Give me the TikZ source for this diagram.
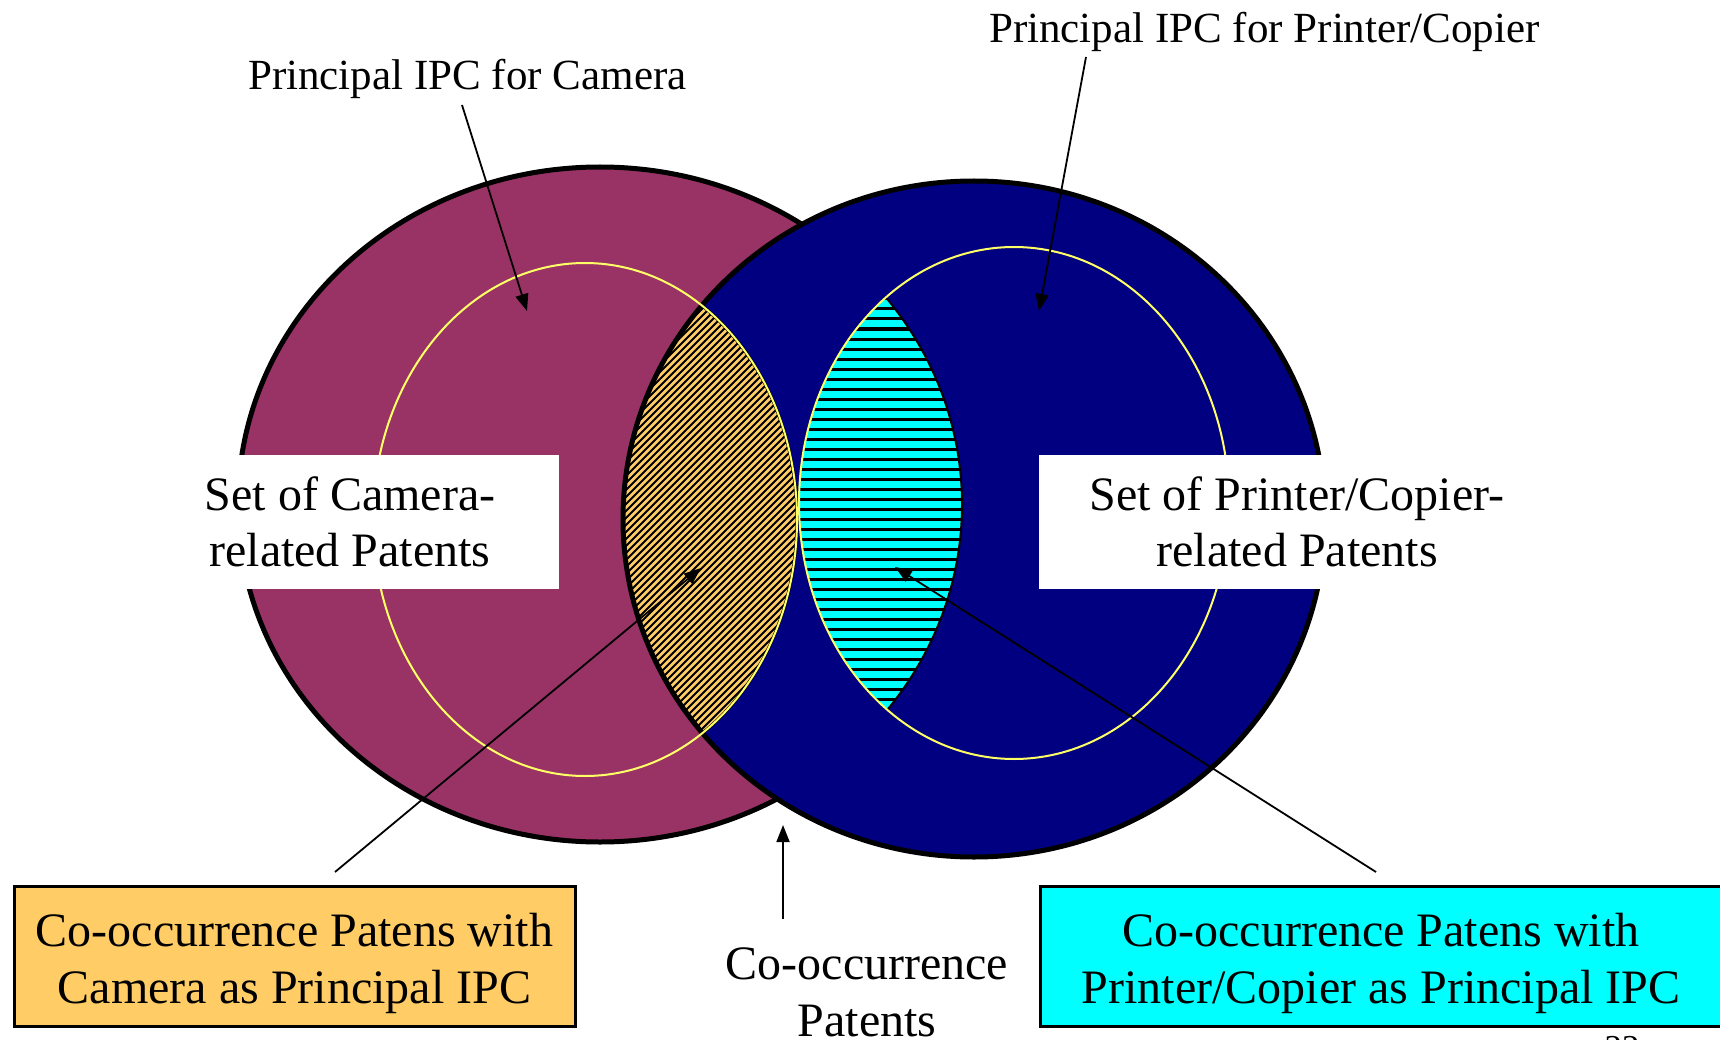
\documentclass[tikz,border=0pt]{standalone}
\usepackage{fontspec}
\setmainfont{Liberation Serif}
\usetikzlibrary{arrows.meta}

\definecolor{camfill}{HTML}{993366}
\definecolor{prnfill}{HTML}{000080}
\definecolor{ipcring}{HTML}{FFFF66}
\definecolor{camco}{HTML}{FFCC66}
\definecolor{prnco}{HTML}{00FFFF}

\begin{document}
\begin{tikzpicture}[x=1pt,y=-1pt,
  setborder/.style={draw=black, line width=5pt},
  ipcline/.style={draw=ipcring, line width=2pt},
  lensline/.style={draw=black, line width=3pt},
  hatchline/.style={draw=black, line width=1.9pt},
  stripeline/.style={draw=black, line width=3pt},
  ptr/.style={draw=black, line width=1.8pt, -{Triangle[length=17pt,width=13pt]}},
  bigtxt/.style={font=\fontsize{48}{57}\selectfont, align=center, inner sep=0pt},
  toptxt/.style={font=\fontsize{43}{50}\selectfont, inner sep=0pt, anchor=base west},
  whitebox/.style={fill=white, draw=none, inner sep=0pt, font=\fontsize{48}{56}\selectfont, align=center},
  cobox/.style={draw=black, line width=3pt, inner sep=0pt}
]
\useasboundingbox (0,0) rectangle (1720,1040);

% the two sets of patents
\fill[camfill] (600,504.5) ellipse [x radius=362, y radius=337.5];
\draw[setborder] (600,504.5) ellipse [x radius=362, y radius=337.5];
\fill[prnfill] (974,519) ellipse [x radius=351, y radius=338];

% co-occurrence with camera as principal IPC: diagonal hatch
\begin{scope}
  \clip (974,519) ellipse [x radius=351, y radius=338];
  \clip (585,519.5) ellipse [x radius=212, y radius=256.5];
  \fill[camco] (600,250) rectangle (820,800);
  \foreach \k in {0,...,118} \draw[hatchline] (\k*7,850) -- ++(600,-600);
\end{scope}
\begin{scope}
  \clip (974,519) ellipse [x radius=351, y radius=338];
  \draw[lensline] (585,519.5) ellipse [x radius=212, y radius=256.5];
\end{scope}

% co-occurrence with printer/copier as principal IPC: horizontal stripes
\begin{scope}
  \clip (600,504.5) ellipse [x radius=362, y radius=337.5];
  \clip (1014,503) ellipse [x radius=215, y radius=256];
  \fill[prnco] (790,240) rectangle (980,780);
  \foreach \k in {0,...,54} \draw[stripeline] (790,249+10*\k) -- (980,249+10*\k);
\end{scope}
\begin{scope}
  \clip (1014,503) ellipse [x radius=215, y radius=256];
  \draw[line width=2pt] (600,504.5) ellipse [x radius=362, y radius=337.5];
\end{scope}

\draw[setborder] (974,519) ellipse [x radius=351, y radius=338];

% principal IPC rings
\draw[ipcline] (585,519.5) ellipse [x radius=212, y radius=256.5];
\draw[ipcline] (1014,503) ellipse [x radius=215, y radius=256];

% set labels
\node[whitebox, minimum width=418, minimum height=134] (camset) at (350,522)
  {Set of Camera-\\related Patents};
\node[whitebox, minimum width=516, minimum height=134] (prnset) at (1297,522)
  {Set of Printer/Copier-\\related Patents};

% principal IPC labels
\node[toptxt] (camipc) at (248,90) {Principal IPC for Camera};
\node[toptxt] (prnipc) at (989,43) {Principal IPC for Printer/Copier};

\coordinate (camipcfoot) at (462,105);
\coordinate (camipctip) at (527,311);
\coordinate (prnipcfoot) at (1086,57);
\coordinate (prnipctip) at (1039,311);
\draw[ptr] (camipcfoot) -- (camipctip);
\draw[ptr] (prnipcfoot) -- (prnipctip);

% co-occurrence boxes
\node[cobox, fill=camco, minimum width=561, minimum height=140] (cambox) at (294.5,956) {};
\node[bigtxt] (camnote) at (294.5,963.5)
  {Co-occurrence Patens with\\Camera as Principal IPC};
\node[cobox, fill=prnco, minimum width=682, minimum height=140] (prnbox) at (1381,956) {};
\node[bigtxt] (prnnote) at (1381,963.5)
  {Co-occurrence Patens with\\Printer/Copier as Principal IPC};

\coordinate (camlead) at (335,872);
\coordinate (camlenstip) at (701,568);
\coordinate (prnlead) at (1376,872);
\coordinate (prnlenstip) at (895,567);
\draw[ptr] (camlead) -- (camlenstip);
\draw[ptr] (prnlead) -- (prnlenstip);

% all co-occurrence patents
\node[bigtxt] (conote) at (867,992) {Co-occurrence\\Patents};
\coordinate (cofoot) at (783,919);
\coordinate (cotip) at (783,825);
\draw[ptr] (cofoot) -- (cotip);

% slide number
\node[font=\fontsize{35}{40}\selectfont, inner sep=0pt, anchor=base] (pageno) at (1622,1059) {22};
\end{tikzpicture}
\end{document}
